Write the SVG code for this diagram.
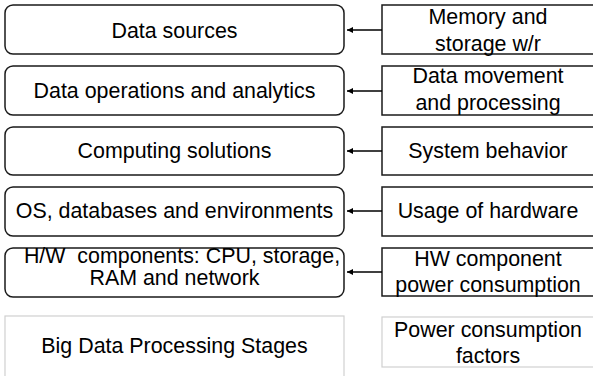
<svg xmlns="http://www.w3.org/2000/svg" width="593" height="376" viewBox="0 0 593 376">
<style>
.lb{fill:#fff;stroke:#1a1a1a;stroke-width:1.5}
.rb{fill:#fff;stroke:#1a1a1a;stroke-width:1.5}
.gb{fill:#fff;stroke:#d0d0d0;stroke-width:1.2}
text{font-family:"Liberation Sans",Arial,sans-serif;font-size:21.4px;fill:#000;text-anchor:middle}
.c{stroke:#000;stroke-width:1.5;fill:none;marker-end:url(#ah)}
</style>
<defs>
<marker id="ah" markerWidth="8" markerHeight="8" refX="6" refY="3" orient="auto" markerUnits="userSpaceOnUse">
<path d="M0,0 L6,3 L0,6 Z" fill="#000"/>
</marker>
</defs>
<rect width="593" height="376" fill="#fff"/>
<g id="n1"><rect class="lb" x="5" y="5" width="339" height="49" rx="8"/><text x="174.5" y="38">Data sources</text></g>
<g id="n2"><rect class="lb" x="5" y="66" width="339" height="49" rx="8"/><text x="174.5" y="98">Data operations and analytics</text></g>
<g id="n3"><rect class="lb" x="5" y="127" width="339" height="48" rx="8"/><text x="174.5" y="158">Computing solutions</text></g>
<g id="n4"><rect class="lb" x="5" y="187" width="339" height="49" rx="8"/><text x="174.5" y="218">OS, databases and environments</text></g>
<g id="n5"><rect class="lb" x="5" y="248" width="339" height="49" rx="8"/><text x="182" y="263" xml:space="preserve">H/W  components: CPU, storage,</text><text x="174.5" y="285">RAM and network</text></g>
<g id="n6"><rect class="gb" x="5" y="316" width="339" height="70"/><text x="174.5" y="353">Big Data Processing Stages</text></g>
<g id="r1"><rect class="rb" x="382" y="5" width="220" height="49"/><text x="488" y="24">Memory and</text><text x="488" y="51">storage w/r</text></g>
<g id="r2"><rect class="rb" x="382" y="66" width="220" height="49"/><text x="488" y="83">Data movement</text><text x="488" y="110">and processing</text></g>
<g id="r3"><rect class="rb" x="382" y="127" width="220" height="48"/><text x="488" y="158">System behavior</text></g>
<g id="r4"><rect class="rb" x="382" y="187" width="220" height="49"/><text x="488" y="218">Usage of hardware</text></g>
<g id="r5"><rect class="rb" x="382" y="248" width="220" height="48"/><text x="488" y="266">HW component</text><text x="488" y="292">power consumption</text></g>
<g id="r6"><rect class="gb" x="382" y="317" width="220" height="50"/><text x="488" y="337">Power consumption</text><text x="488" y="363">factors</text></g>
<g id="connectors">
<line class="c" x1="382" y1="30" x2="347" y2="30"/>
<line class="c" x1="382" y1="91" x2="347" y2="91"/>
<line class="c" x1="382" y1="151" x2="347" y2="151"/>
<line class="c" x1="382" y1="211" x2="347" y2="211"/>
<line class="c" x1="382" y1="272" x2="347" y2="272"/>
</g>
</svg>
